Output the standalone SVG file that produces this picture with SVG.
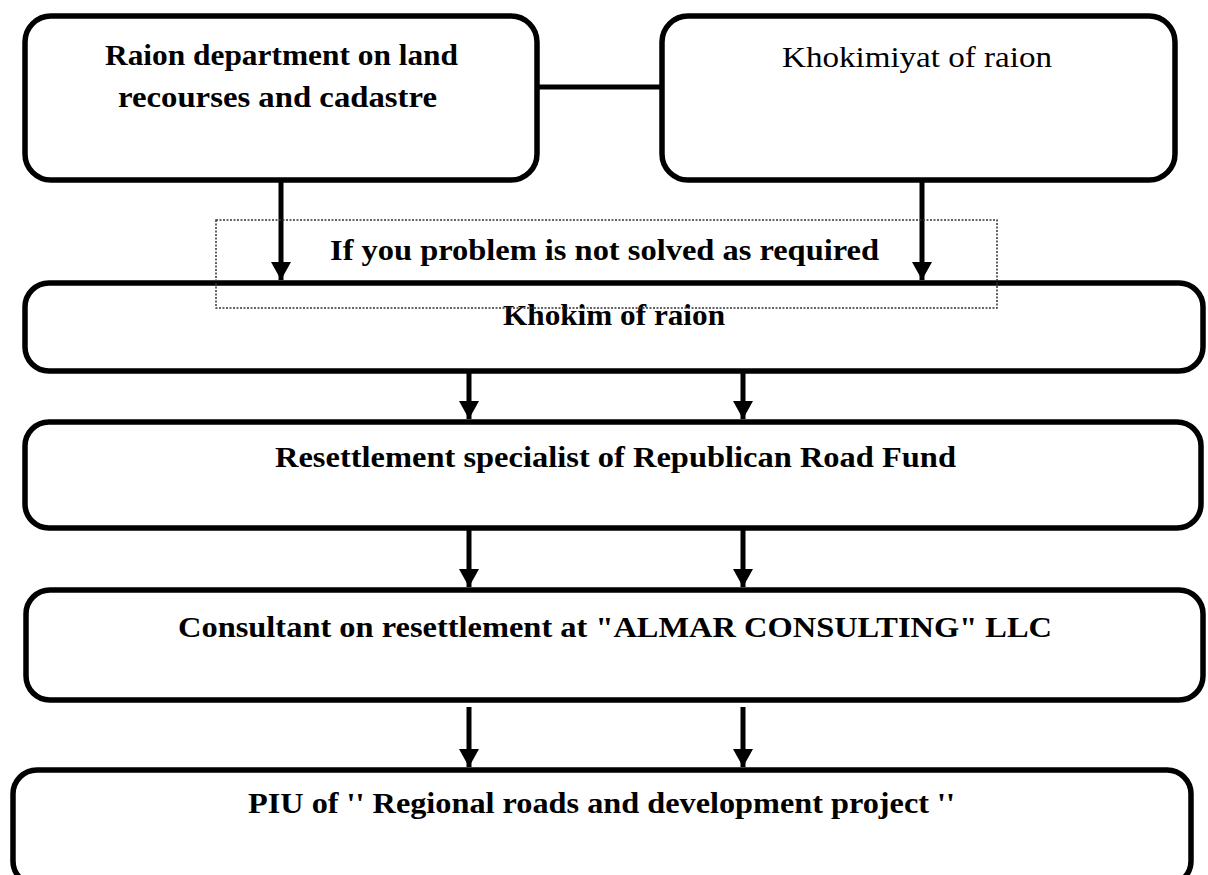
<svg xmlns="http://www.w3.org/2000/svg" width="1208" height="875" viewBox="0 0 1208 875">
<style>
.box{fill:#fff;stroke:#000;stroke-width:5.5}
.t{font-family:"Liberation Serif","Times New Roman",serif;font-size:30px;font-weight:bold;fill:#000}
.r{font-weight:normal}
.c{fill:none;stroke:#000;stroke-width:5}
.dot{fill:none;stroke:#333;stroke-width:1.5;stroke-dasharray:2 1.5}
</style>
<defs>
<marker id="ah" markerUnits="userSpaceOnUse" markerWidth="18" markerHeight="20" refX="18" refY="10" orient="auto" viewBox="0 0 18 20">
<path d="M0,0 L18,10 L0,20 z" fill="#000"/>
</marker>
</defs>
<rect width="1208" height="875" fill="#fff"/>
<g id="n-land">
<rect class="box" x="25" y="16" width="512" height="164" rx="26" ry="26"/>
<text class="t" x="105" y="65" textLength="353" lengthAdjust="spacingAndGlyphs">Raion department on land</text>
<text class="t" x="118" y="107" textLength="319" lengthAdjust="spacingAndGlyphs">recourses and cadastre</text>
</g>
<g id="n-khokimiyat">
<rect class="box" x="662" y="16" width="513" height="164" rx="26" ry="26"/>
<text class="t r" x="782" y="67" textLength="270" lengthAdjust="spacingAndGlyphs">Khokimiyat of raion</text>
</g>
<g id="n-khokim">
<rect class="box" x="25" y="283" width="1178" height="88" rx="24" ry="24"/>
<text class="t" x="503" y="325" textLength="222" lengthAdjust="spacingAndGlyphs">Khokim of raion</text>
</g>
<g id="n-resettlement">
<rect class="box" x="25" y="422" width="1176" height="106" rx="24" ry="24"/>
<text class="t" x="275" y="467" textLength="681" lengthAdjust="spacingAndGlyphs">Resettlement specialist of Republican Road Fund</text>
</g>
<g id="n-consultant">
<rect class="box" x="26" y="590" width="1177" height="110" rx="24" ry="24"/>
<text class="t" x="178" y="637" textLength="874" lengthAdjust="spacingAndGlyphs">Consultant on resettlement at "ALMAR CONSULTING" LLC</text>
</g>
<g id="n-piu">
<rect class="box" x="13" y="770" width="1178" height="115" rx="24" ry="24"/>
<text class="t" x="248" y="813" textLength="707" lengthAdjust="spacingAndGlyphs">PIU of '' Regional roads and development project ''</text>
</g>
<g id="connectors">
<line class="c" x1="537" y1="87" x2="662" y2="87"/>
<line class="c" x1="281" y1="182" x2="281" y2="280" marker-end="url(#ah)"/>
<line class="c" x1="922" y1="182" x2="922" y2="280" marker-end="url(#ah)"/>
<line class="c" x1="469" y1="373" x2="469" y2="419" marker-end="url(#ah)"/>
<line class="c" x1="743" y1="373" x2="743" y2="419" marker-end="url(#ah)"/>
<line class="c" x1="469" y1="530" x2="469" y2="587" marker-end="url(#ah)"/>
<line class="c" x1="743" y1="530" x2="743" y2="587" marker-end="url(#ah)"/>
<line class="c" x1="469" y1="707" x2="469" y2="767" marker-end="url(#ah)"/>
<line class="c" x1="743" y1="707" x2="743" y2="767" marker-end="url(#ah)"/>
</g>
<g id="n-condition">
<rect class="dot" x="216" y="220" width="781" height="88"/>
<text class="t" x="330" y="260" textLength="549" lengthAdjust="spacingAndGlyphs">If you problem is not solved as required</text>
</g>
</svg>
